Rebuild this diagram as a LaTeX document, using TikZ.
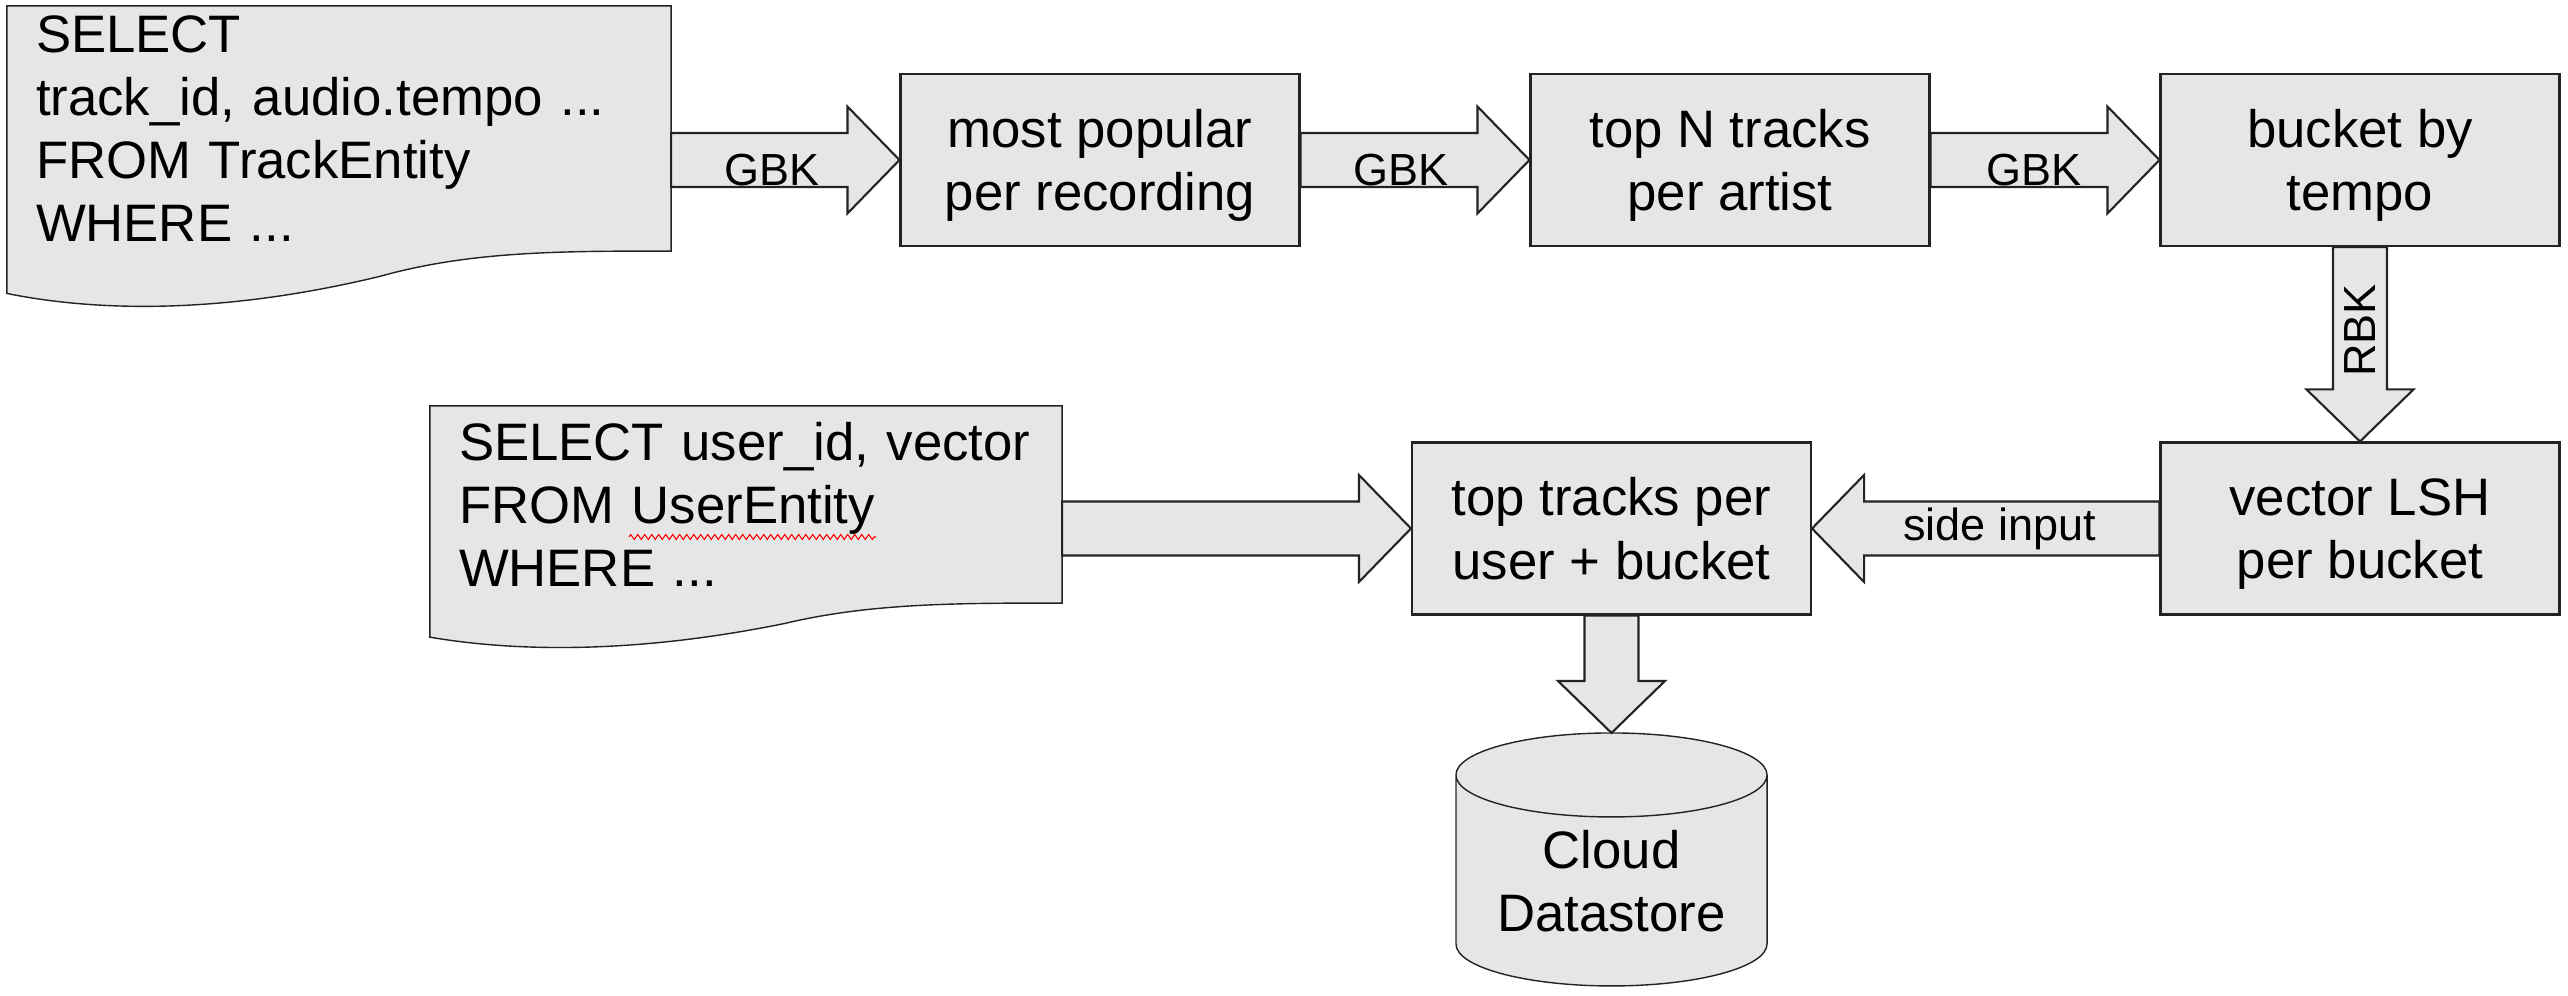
\documentclass[tikz,border=0pt]{standalone}
\usepackage{fontspec}
\setmainfont{Liberation Sans}
\usepackage{xcolor}
\usepackage{tikz}
\usetikzlibrary{shapes}
\usetikzlibrary{calc}
\usetikzlibrary{backgrounds}
\usetikzlibrary{decorations.pathmorphing}
\definecolor{boxgray}{RGB}{230,230,230}
\definecolor{edgegray}{RGB}{35,35,35}
\newcommand{\bigtext}{\fontsize{15}{18}\selectfont}
\newcommand{\lbltext}{\fontsize{12.8}{15}\selectfont}
\newcommand{\fatarrow}[2]{%
  \path ($(#2)!0.52cm!(#1)$) coordinate (hb);
  \draw[fat] ($(#1)!0.27cm!90:(#2)$) -- ($(hb)!0.27cm!90:(#2)$) -- ($(hb)!0.535cm!90:(#2)$)
    -- (#2) -- ($(hb)!0.535cm!-90:(#2)$) -- ($(hb)!0.27cm!-90:(#2)$) -- ($(#1)!0.27cm!-90:(#2)$) -- cycle;}
\newcommand{\docoutline}[1]{%
  \draw[doc] let \p1=(#1.north west), \p2=(#1.south east), \n1={\x2-\x1}, \n2={\y1-\y2} in
    (\p1) -- (\x2,\y1) -- (\p2)
    .. controls ({\x1+0.834*\n1},\y2) and ({\x1+0.698*\n1},\y2) .. ({\x1+0.562*\n1},{\y2-0.103*\n2})
    .. controls ({\x1+0.33*\n1},{\y2-0.255*\n2}) and ({\x1+0.14*\n1},{\y2-0.25*\n2}) .. (\x1,{\y2-0.173*\n2})
    -- cycle;}
\newcommand{\dboutline}[2]{%
  \draw[doc] let \p1=(#1.north west), \p2=(#1.north east), \n1={(\x2-\x1)/2}, \n2={0.42cm}, \n3={\y1-#2} in
    (\x1,{\y1-\n2}) -- (\x1,{\n3+\n2}) arc[start angle=180, end angle=360, x radius=\n1, y radius=\n2]
    -- (\x2,{\y1-\n2}) arc[start angle=0, end angle=180, x radius=\n1, y radius=\n2] -- cycle
    (\x1,{\y1-\n2}) arc[start angle=180, end angle=360, x radius=\n1, y radius=\n2];}

\begin{document}
\begin{tikzpicture}[
    line width=0.6pt,
    stepbox/.style={draw=edgegray, fill=boxgray, minimum width=3.99cm, minimum height=1.72cm,
      align=center, text depth=0pt, font=\bigtext},
    docnode/.style={inner xsep=0.28cm, inner ysep=0pt, align=left, font=\bigtext},
    doc/.style={draw=edgegray, fill=boxgray},
    fat/.style={draw=edgegray, fill=boxgray, line join=miter},
    lbl/.style={font=\lbltext, inner sep=1pt},
    dbase/.style={minimum width=3.09cm, minimum height=2.94cm, inner sep=0pt, align=center, font=\bigtext}]
  \useasboundingbox (0,0) rectangle (25.68,-9.96);

  \node[docnode, text width=6.06cm, minimum height=2.43cm] (q1) at (3.39,-1.285)
    {SELECT\\track\_id, audio.tempo ...\\FROM TrackEntity\\WHERE ...};
  \node[docnode, text width=5.74cm, minimum height=1.95cm] (q2) at (7.46,-5.045)
    {SELECT user\_id, vector\\FROM UserEntity\\WHERE ...};

  \node[stepbox] (pop) at (11.00,-1.60) {most popular\\per recording};
  \node[stepbox] (topn) at (17.30,-1.60) {top N tracks\\per artist};
  \node[stepbox] (bucket) at (23.60,-1.60) {bucket by\\tempo};
  \node[stepbox] (lsh) at (23.60,-5.285) {vector LSH\\per bucket};
  \node[stepbox] (toptr) at (16.115,-5.285) {top tracks per\\user + bucket};
  \node[dbase] (store) at (16.115,-8.81) {Cloud\\Datastore};

  \begin{scope}[on background layer]
    \docoutline{q1}
    \docoutline{q2}
    \dboutline{store}{2.53cm}
  \end{scope}

  \coordinate (a1) at (q1.east |- pop.west);
  \coordinate (a2) at (q2.east |- toptr.west);
  \fatarrow{a1}{pop.west}
  \fatarrow{pop.east}{topn.west}
  \fatarrow{topn.east}{bucket.west}
  \fatarrow{bucket.south}{lsh.north}
  \fatarrow{lsh.west}{toptr.east}
  \fatarrow{a2}{toptr.west}
  \fatarrow{toptr.south}{store.north}

  \path (a1) -- (pop.west) node[lbl, pos=0.44, yshift=-0.1cm] {GBK};
  \path (pop.east) -- (topn.west) node[lbl, pos=0.44, yshift=-0.1cm] {GBK};
  \path (topn.east) -- (bucket.west) node[lbl, pos=0.45, yshift=-0.1cm] {GBK};
  \path (bucket.south) -- (lsh.north) node[lbl, pos=0.43, rotate=90] {RBK};
  \path (lsh.west) -- (toptr.east) node[lbl, pos=0.46] {side input};

  \draw[red, line width=0.3pt, decorate, decoration={zigzag, amplitude=0.25mm, segment length=0.7mm}]
    (6.29,-5.37) -- (8.76,-5.37);
\end{tikzpicture}
\end{document}
